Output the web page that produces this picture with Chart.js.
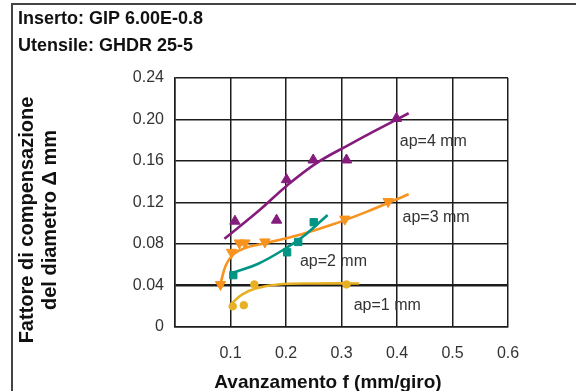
<!DOCTYPE html>
<html>
<head>
<meta charset="utf-8">
<script src="https://cdn.jsdelivr.net/npm/chart.js@4.4.1/dist/chart.umd.min.js"></script>
<style>
  html, body { margin: 0; padding: 0; background: #fff; }
  #wrap { width: 576px; height: 391px; position: relative; }
</style>
</head>
<body>
<div id="wrap"><canvas id="grafico" width="576" height="391"></canvas></div>
<script>
// Dati (x = avanzamento mm/giro, y = fattore Δ mm)
var xTicks = [0.1, 0.2, 0.3, 0.4, 0.5, 0.6];
var yTicks = [0, 0.04, 0.08, 0.12, 0.16, 0.20, 0.24];

var ap4Punti = [[0.108, 0.102], [0.183, 0.103], [0.201, 0.142], [0.249, 0.161], [0.309, 0.161], [0.399, 0.201]];
var ap4Curva = [[0.089, 0.085], [0.153, 0.113], [0.201, 0.136], [0.255, 0.158], [0.315, 0.176], [0.360, 0.189], [0.421, 0.206]];

var ap3Punti = [[0.082, 0.041], [0.102, 0.072], [0.116, 0.081], [0.126, 0.081], [0.162, 0.082], [0.306, 0.104], [0.384, 0.121]];
var ap3Curva = [[0.083, 0.044], [0.092, 0.060], [0.105, 0.070], [0.125, 0.076], [0.165, 0.081], [0.225, 0.089], [0.285, 0.099], [0.345, 0.111], [0.421, 0.128]];

var ap2Punti = [[0.105, 0.050], [0.202, 0.072], [0.222, 0.082], [0.250, 0.101]];
var ap2Curva = [[0.103, 0.052], [0.150, 0.061], [0.200, 0.076], [0.235, 0.089], [0.275, 0.108]];

var ap1Punti = [[0.104, 0.020], [0.124, 0.021], [0.143, 0.041], [0.309, 0.041]];
var ap1Curva = [[0.103, 0.023], [0.120, 0.031], [0.145, 0.037], [0.185, 0.041], [0.250, 0.042], [0.332, 0.042]];

var etichette = ['ap=4 mm', 'ap=3 mm', 'ap=2 mm', 'ap=1 mm'];

function xy(arr) {
    return arr.map(function (p) { return { x: p[0], y: p[1] }; });
}

var VIOLA = '#851b7b';
var ARANCIO = '#f7931e';
var VERDE = '#009485';
var GIALLO = '#e8b125';
var GRIGLIA = '#1c1c1c';
var TESTO = '#333333';
var FONT = '"Liberation Sans", Arial, Helvetica, sans-serif';

function curva(dati, colore) {
    return { type: 'line', data: xy(dati), borderColor: colore, borderWidth: 2.6, pointRadius: 0,
             tension: 0.4, fill: false };
}
function punti(dati, colore, stile, raggio, rot) {
    return { type: 'scatter', data: xy(dati), showLine: false, backgroundColor: colore, borderColor: colore,
             borderWidth: 1, pointStyle: stile, pointRadius: raggio, rotation: rot || 0 };
}

// testi e cornice disegnati a mano
var testiPlugin = {
    id: 'testi',
    afterDraw: function (chart) {
        var c = chart.ctx;
        var sx = chart.scales.x, sy = chart.scales.y;
        c.save();
        // cornice
        c.strokeStyle = '#444';
        c.lineWidth = 2;
        c.beginPath();
        c.moveTo(576, 4);
        c.lineTo(12, 4);
        c.lineTo(12, 391);
        c.stroke();

        c.fillStyle = '#111';
        c.textAlign = 'left';
        c.textBaseline = 'middle';
        c.font = 'bold 18px ' + FONT;
        c.fillText('Inserto: GIP 6.00E-0.8', 18, 19);
        c.fillText('Utensile: GHDR 25-5', 18, 46);

        // titolo asse x
        c.textAlign = 'center';
        c.font = 'bold 19px ' + FONT;
        c.fillText('Avanzamento f (mm/giro)', 328, 383);

        // titolo asse y
        c.save();
        c.translate(38, 220);
        c.rotate(-Math.PI / 2);
        c.font = 'bold 20px ' + FONT;
        c.fillText('Fattore di compensazione', 0, -11);
        c.fillText('del diametro \u0394 mm', 0, 12);
        c.restore();

        // etichette delle curve
        c.fillStyle = TESTO;
        c.textAlign = 'left';
        c.font = '16px ' + FONT;
        var pos = [[0.405, 0.179], [0.410, 0.105], [0.225, 0.063], [0.322, 0.0205]];
        etichette.forEach(function (t, i) {
            c.fillText(t, sx.getPixelForValue(pos[i][0]), sy.getPixelForValue(pos[i][1]));
        });
        c.restore();
    }
};

var ctx = document.getElementById('grafico').getContext('2d');
var grafico = new Chart(ctx, {
    type: 'scatter',
    data: {
        datasets: [
            curva(ap1Curva, GIALLO),
            curva(ap2Curva, VERDE),
            curva(ap3Curva, ARANCIO),
            curva(ap4Curva, VIOLA),
            punti(ap1Punti, GIALLO, 'circle', 3.8),
            punti(ap2Punti, VERDE, 'rect', 5.2),
            punti(ap3Punti, ARANCIO, 'triangle', 6, 180),
            punti(ap4Punti, VIOLA, 'triangle', 6)
        ]
    },
    options: {
        responsive: false,
        animation: false,
        layout: { padding: { top: 78, right: 68, left: 0, bottom: 0 } },
        plugins: { legend: { display: false }, tooltip: { enabled: false } },
        scales: {
            x: {
                type: 'linear', min: 0, max: 0.6,
                afterFit: function (s) { s.height = 64; },
                afterBuildTicks: function (s) {
                    s.ticks = [0].concat(xTicks).map(function (v) { return { value: v }; });
                },
                ticks: {
                    padding: 17, color: TESTO, font: { family: FONT, size: 16 },
                    callback: function (v) { return v === 0 ? '' : v.toFixed(1); }
                },
                grid: { color: GRIGLIA, lineWidth: 1.5, drawTicks: false },
                border: { color: GRIGLIA, width: 1.5 }
            },
            y: {
                min: 0, max: 0.24,
                afterFit: function (s) { s.width = 175; },
                afterBuildTicks: function (s) {
                    s.ticks = yTicks.map(function (v) { return { value: v }; });
                },
                ticks: {
                    padding: 11, color: TESTO, font: { family: FONT, size: 16 },
                    callback: function (v) { return v === 0 ? '0' : v.toFixed(2); }
                },
                grid: {
                    color: GRIGLIA, drawTicks: false,
                    lineWidth: function (c) { return Math.abs(c.tick.value - 0.04) < 1e-6 ? 2.6 : 1.5; }
                },
                border: { color: GRIGLIA, width: 1.5 }
            }
        }
    },
    plugins: [testiPlugin]
});
</script>
</body>
</html>
